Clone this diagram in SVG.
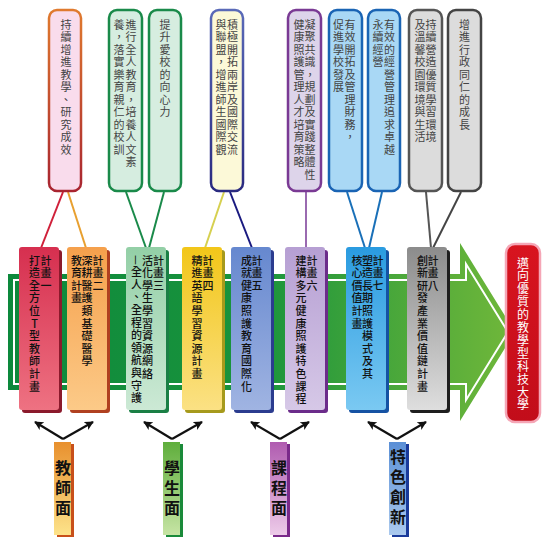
<svg xmlns="http://www.w3.org/2000/svg" width="550" height="548" viewBox="0 0 550 548">
<defs>
<style>
.v{writing-mode:vertical-rl;text-orientation:upright;font-family:"Noto Sans CJK TC","Noto Sans CJK SC",sans-serif;}
.mx{text-orientation:mixed;}
.tt{font-size:11px;letter-spacing:1.5px;fill:#444;}
.pt{font-size:11px;letter-spacing:1.6px;fill:#111;font-weight:500;}
.rt{font-size:12px;letter-spacing:0.9px;fill:#fff;}
.bt{font-size:16px;letter-spacing:4px;fill:#111;font-weight:700;}
.tb{stroke-width:2.5;}
.ln{fill:none;stroke-width:2;}
.va{fill:none;stroke:#111;stroke-width:2.2;marker-end:url(#ah);}
</style>
<marker id="ah" viewBox="0 0 10 10" refX="9" refY="5" markerWidth="9" markerHeight="9" markerUnits="userSpaceOnUse" orient="auto"><path d="M0,0 L10,5 L0,10 L2.5,5 Z" fill="#111"/></marker>
<linearGradient id="gArrow" x1="0" y1="0" x2="520" y2="0" gradientUnits="userSpaceOnUse"><stop offset="0" stop-color="#0c883c"/><stop offset="0.5" stop-color="#1a943c"/><stop offset="0.85" stop-color="#5aae3a"/><stop offset="1" stop-color="#72b83a"/></linearGradient>
<linearGradient id="gB1" x1="0" y1="0" x2="0" y2="1"><stop offset="0" stop-color="#e07a2e"/><stop offset="1" stop-color="#a82430"/></linearGradient>
<linearGradient id="gB4" x1="0" y1="0" x2="0" y2="1"><stop offset="0" stop-color="#5a6ab8"/><stop offset="1" stop-color="#2a2a80"/></linearGradient>
<linearGradient id="p1" x1="0" y1="0" x2="0" y2="1"><stop offset="0" stop-color="#d62f4f"/><stop offset="1" stop-color="#ee7282"/></linearGradient>
<linearGradient id="p2" x1="0" y1="0" x2="0" y2="1"><stop offset="0" stop-color="#f5a04c"/><stop offset="1" stop-color="#fcca88"/></linearGradient>
<linearGradient id="p3" x1="0" y1="0" x2="0" y2="1"><stop offset="0" stop-color="#93cfa6"/><stop offset="1" stop-color="#cce9d5"/></linearGradient>
<linearGradient id="p4" x1="0" y1="0" x2="0" y2="1"><stop offset="0" stop-color="#f2c619"/><stop offset="1" stop-color="#fbe184"/></linearGradient>
<linearGradient id="p5" x1="0" y1="0" x2="0" y2="1"><stop offset="0" stop-color="#6688cf"/><stop offset="1" stop-color="#a0b4e2"/></linearGradient>
<linearGradient id="p6" x1="0" y1="0" x2="0" y2="1"><stop offset="0" stop-color="#b69fd3"/><stop offset="1" stop-color="#d6c8e7"/></linearGradient>
<linearGradient id="p7" x1="0" y1="0" x2="0" y2="1"><stop offset="0" stop-color="#2a9be0"/><stop offset="1" stop-color="#7ac9f2"/></linearGradient>
<linearGradient id="p8" x1="0" y1="0" x2="0" y2="1"><stop offset="0" stop-color="#8c8c8c"/><stop offset="1" stop-color="#dedede"/></linearGradient>
<linearGradient id="l1" x1="0" y1="0" x2="0" y2="1"><stop offset="0" stop-color="#e8902e"/><stop offset="1" stop-color="#fde38a"/></linearGradient>
<linearGradient id="l2" x1="0" y1="0" x2="0" y2="1"><stop offset="0" stop-color="#5fae3c"/><stop offset="1" stop-color="#c6e4a4"/></linearGradient>
<linearGradient id="l3" x1="0" y1="0" x2="0" y2="1"><stop offset="0" stop-color="#b05cb0"/><stop offset="1" stop-color="#edcbe9"/></linearGradient>
<linearGradient id="l4" x1="0" y1="0" x2="0" y2="1"><stop offset="0" stop-color="#5a8fd6"/><stop offset="1" stop-color="#aac9ee"/></linearGradient>
<linearGradient id="gRed" x1="0" y1="0" x2="0" y2="1"><stop offset="0" stop-color="#d8141f"/><stop offset="1" stop-color="#c20d1a"/></linearGradient>
</defs>
<rect width="550" height="548" fill="#fff"/>

<g id="big-arrow">
<path d="M8,274 H460 V243 L515,332 L460,421 V390 H8 Z" fill="url(#gArrow)"/>
<path d="M14,280 H466 V264 L508,332 L466,400 V384 H14 Z" fill="none" stroke="#fff" stroke-width="2"/>
</g>

<g id="connectors">
<path class="ln" stroke="#d0203a" d="M63,192 L41,248"/>
<path class="ln" stroke="#e8a030" d="M68,192 L86,248"/>
<path class="ln" stroke="#1a8a4a" d="M126,192 L146,248"/>
<path class="ln" stroke="#1a8a4a" d="M164,192 L149,248"/>
<path class="ln" stroke="#d6d050" d="M224,192 L205,248"/>
<path class="ln" stroke="#1a1a80" d="M230,192 L252,248"/>
<path class="ln" stroke="#9a6ab0" d="M306,192 L306,248"/>
<path class="ln" stroke="#1a70b8" d="M347,192 L365,248"/>
<path class="ln" stroke="#1a70b8" d="M382,192 L369,248"/>
<path class="ln" stroke="#555" d="M426,192 L431,248"/>
<path class="ln" stroke="#444" d="M461,192 L433,248"/>
<path class="va" d="M63,439 L35,422"/>
<path class="va" d="M63,439 L93,422"/>
<path class="va" d="M172,439 L144,422"/>
<path class="va" d="M172,439 L202,422"/>
<path class="va" d="M280,439 L251,422"/>
<path class="va" d="M280,439 L309,422"/>
<path class="va" d="M397,439 L368,422"/>
<path class="va" d="M397,439 L426,422"/>
</g>

<g id="goal-1">
<rect class="tb" x="49" y="10" width="32" height="181" rx="8" fill="#f9dcec" stroke="url(#gB1)"/>
<text class="v tt" x="66" y="19">持續增進教學、研究成效</text>
</g>
<g id="goal-2">
<rect class="tb" x="109" y="10" width="33" height="181" rx="8" fill="#d6ede0" stroke="#1a8a4a"/>
<text class="v tt" x="131" y="19">進行全人教育，培養人文素</text>
<text class="v tt" x="119" y="19">養，落實樂育親仁的校訓</text>
</g>
<g id="goal-3">
<rect class="tb" x="149" y="10" width="32" height="181" rx="8" fill="#d6ede0" stroke="#1a8a4a"/>
<text class="v tt" x="165" y="19">提升愛校的向心力</text>
</g>
<g id="goal-4">
<rect class="tb" x="211" y="10" width="32" height="181" rx="8" fill="#fcf9d8" stroke="url(#gB4)"/>
<text class="v tt" x="232.5" y="19">積極開拓兩岸及國際交流</text>
<text class="v tt" x="221" y="19">與聯盟，增進師生國際觀</text>
</g>
<g id="goal-5">
<rect class="tb" x="288" y="10" width="33" height="181" rx="8" fill="#ddd4ea" stroke="#7a3a94"/>
<text class="v tt" x="310" y="19">凝聚共識，規劃及實踐整體性</text>
<text class="v tt" x="299" y="19">健康照護管理人才培育策略</text>
</g>
<g id="goal-6">
<rect class="tb" x="329" y="10" width="33" height="181" rx="8" fill="#a9d8f5" stroke="#1a64b4"/>
<text class="v tt" x="350" y="19">有效開拓及管理財務，</text>
<text class="v tt" x="338.5" y="19">促進學校發展</text>
</g>
<g id="goal-7">
<rect class="tb" x="368" y="10" width="32" height="181" rx="8" fill="#a9d8f5" stroke="#1a64b4"/>
<text class="v tt" x="389.5" y="19">有效的經營管理追求卓越</text>
<text class="v tt" x="378" y="19">永續經營</text>
</g>
<g id="goal-8">
<rect class="tb" x="409" y="10" width="33" height="181" rx="8" fill="#dcdcdc" stroke="#555"/>
<text class="v tt" x="431" y="19">持續營造優質學習環境</text>
<text class="v tt" x="420" y="19">及溫馨校園環境與生活</text>
</g>
<g id="goal-9">
<rect class="tb" x="448" y="10" width="33" height="181" rx="8" fill="#dcdcdc" stroke="#444"/>
<text class="v tt" x="464.5" y="19">增進行政同仁的成長</text>
</g>

<g id="plan-1">
<rect x="22" y="250" width="40" height="163" rx="3" fill="#8b1a2c"/>
<rect x="19" y="247" width="40" height="163" rx="3" fill="url(#p1)"/>
<text class="v pt" x="46" y="255">計畫一</text>
<text class="v pt" x="34.5" y="255">打造全方位T型教師計畫</text>
</g>
<g id="plan-2">
<rect x="70" y="250" width="40" height="163" rx="3" fill="#b04020"/>
<rect x="67" y="247" width="40" height="163" rx="3" fill="url(#p2)"/>
<text class="v pt" x="98" y="255">計畫二</text>
<text class="v pt" x="87" y="255">深耕醫護類基礎醫學</text>
<text class="v pt" x="76.5" y="255">教育計畫</text>
</g>
<g id="plan-3">
<rect x="129" y="250" width="40" height="163" rx="3" fill="#1a7f45"/>
<rect x="126" y="247" width="40" height="163" rx="3" fill="url(#p3)"/>
<text class="v pt" x="158.5" y="255">計畫三</text>
<text class="v pt" x="147.5" y="255">活化學生學習資源網絡</text>
<text class="v mx pt" x="136.5" y="255">—全人、全程的領航與守護</text>
</g>
<g id="plan-4">
<rect x="185" y="250" width="40" height="163" rx="3" fill="#a69a1c"/>
<rect x="182" y="247" width="40" height="163" rx="3" fill="url(#p4)"/>
<text class="v pt" x="208" y="255">計畫四</text>
<text class="v pt" x="197" y="255">精進英語學習資源計畫</text>
</g>
<g id="plan-5">
<rect x="234" y="250" width="40" height="163" rx="3" fill="#2b3c8f"/>
<rect x="231" y="247" width="40" height="163" rx="3" fill="url(#p5)"/>
<text class="v pt" x="257" y="255">計畫五</text>
<text class="v pt" x="246.5" y="255">成就健康照護教育國際化</text>
</g>
<g id="plan-6">
<rect x="288" y="250" width="40" height="163" rx="3" fill="#6b2c8a"/>
<rect x="285" y="247" width="40" height="163" rx="3" fill="url(#p6)"/>
<text class="v pt" x="312" y="255">計畫六</text>
<text class="v pt" x="301" y="255">建構多元健康照護特色課程</text>
</g>
<g id="plan-7">
<rect x="349" y="250" width="40" height="163" rx="3" fill="#1552a3"/>
<rect x="346" y="247" width="40" height="163" rx="3" fill="url(#p7)"/>
<text class="v pt" x="378" y="255">計畫七</text>
<text class="v pt" x="367.5" y="255">塑造長期照護模式及其</text>
<text class="v pt" x="357" y="255">核心價值計畫</text>
</g>
<g id="plan-8">
<rect x="410" y="250" width="40" height="163" rx="3" fill="#1e1e1e"/>
<rect x="407" y="247" width="40" height="163" rx="3" fill="url(#p8)"/>
<text class="v pt" x="433" y="255">計畫八</text>
<text class="v pt" x="422.5" y="255">創新研發產業價值鏈計畫</text>
</g>

<g id="goal-target">
<rect x="506" y="244" width="34" height="178" rx="9" fill="url(#gRed)" stroke="#f5a6b6" stroke-width="2.5"/>
<text class="v rt" x="523" y="257">邁向優質的教學型科技大學</text>
</g>

<g id="aspect-teacher">
<rect x="57" y="444" width="17" height="93" fill="#c8501a"/>
<rect x="54" y="442" width="17" height="93" fill="url(#l1)"/>
<text class="v bt" x="63" y="460">教師面</text>
</g>
<g id="aspect-student">
<rect x="166" y="444" width="17" height="93" fill="#1a8a3a"/>
<rect x="163" y="442" width="17" height="93" fill="url(#l2)"/>
<text class="v bt" x="172" y="460">學生面</text>
</g>
<g id="aspect-course">
<rect x="273" y="444" width="17" height="93" fill="#7a2a8a"/>
<rect x="270" y="442" width="17" height="93" fill="url(#l3)"/>
<text class="v bt" x="279" y="460">課程面</text>
</g>
<g id="aspect-innovation">
<rect x="392" y="444" width="17" height="93" fill="#1a3a9a"/>
<rect x="389" y="442" width="17" height="93" fill="url(#l4)"/>
<text class="v bt" x="398" y="449">特色創新</text>
</g>
</svg>
